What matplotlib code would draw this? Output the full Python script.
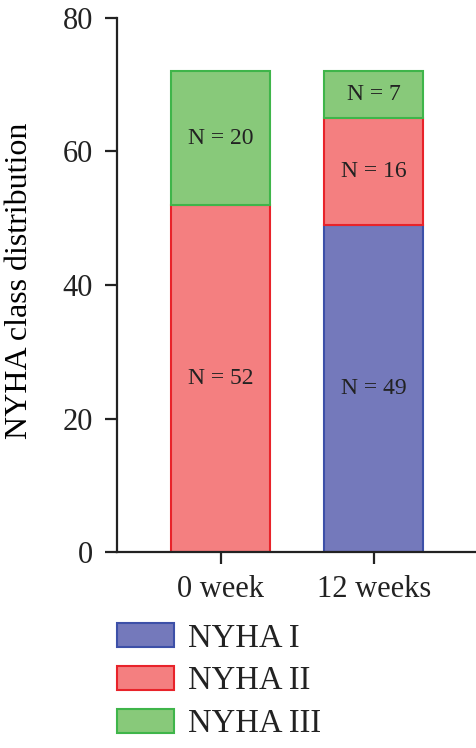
import matplotlib
matplotlib.use("Agg")
import matplotlib.pyplot as plt
from matplotlib.patches import Patch
import numpy as np

plt.rcParams['font.family'] = ['Liberation Serif', 'DejaVu Serif']

# data
groups = ["0 week", "12 weeks"]
classes = ["NYHA I", "NYHA II", "NYHA III"]
nyha_1 = [0, 49]
nyha_2 = [52, 16]
nyha_3 = [20, 7]

fills = ["#7479bb", "#f47f80", "#88c97a"]
edges = ["#3d50a8", "#e8232a", "#3fb54a"]

fig = plt.figure(figsize=(4.76, 7.48), dpi=100)
ax = fig.add_axes([0.246, 0.262, 0.754, 0.714])

x = np.arange(len(groups))
bottom = np.zeros(len(groups))
for vals, fc, ec in zip([nyha_1, nyha_2, nyha_3], fills, edges):
    vals = np.array(vals, dtype=float)
    ax.bar(x, vals, width=0.645, bottom=bottom, color=fc,
           edgecolor=ec, linewidth=1.5, zorder=2)
    for xi, v, b in zip(x, vals, bottom):
        if v > 0:
            ax.text(xi, b + v / 2.0, "N = %d" % v, ha="center", va="center",
                    fontsize=17, color="#222222", zorder=3)
    bottom += vals

ax.set_xlim(-0.674, 1.665)
ax.set_ylim(0, 80)
ax.set_yticks([0, 20, 40, 60, 80])
ax.set_xticks(x)
ax.set_xticklabels(groups)
ax.set_ylabel("NYHA class distribution", fontsize=23)
ax.yaxis.set_label_coords(-0.232, 0.507)

for s in ["top", "right"]:
    ax.spines[s].set_visible(False)
for s in ["left", "bottom"]:
    ax.spines[s].set_linewidth(1.6)
    ax.spines[s].set_color("#222222")
ax.tick_params(axis="both", direction="out", length=8.5, width=1.6,
               labelsize=22, color="#222222", labelcolor="#222222")
ax.tick_params(axis="x", pad=8)
ax.tick_params(axis="y", pad=9)

handles = [Patch(facecolor=fc, edgecolor=ec, linewidth=1.5)
           for fc, ec in zip(fills, edges)]
fig.legend(handles, classes, loc="upper left",
           bbox_to_anchor=(117 / 476.0, 1 - 623 / 748.0),
           frameon=False, fontsize=23.5, borderpad=0, borderaxespad=0,
           handlelength=1.75, handleheight=0.77, handletextpad=0.43,
           labelspacing=0.38, labelcolor="#222222")

fig.savefig("out.png", dpi=100)
